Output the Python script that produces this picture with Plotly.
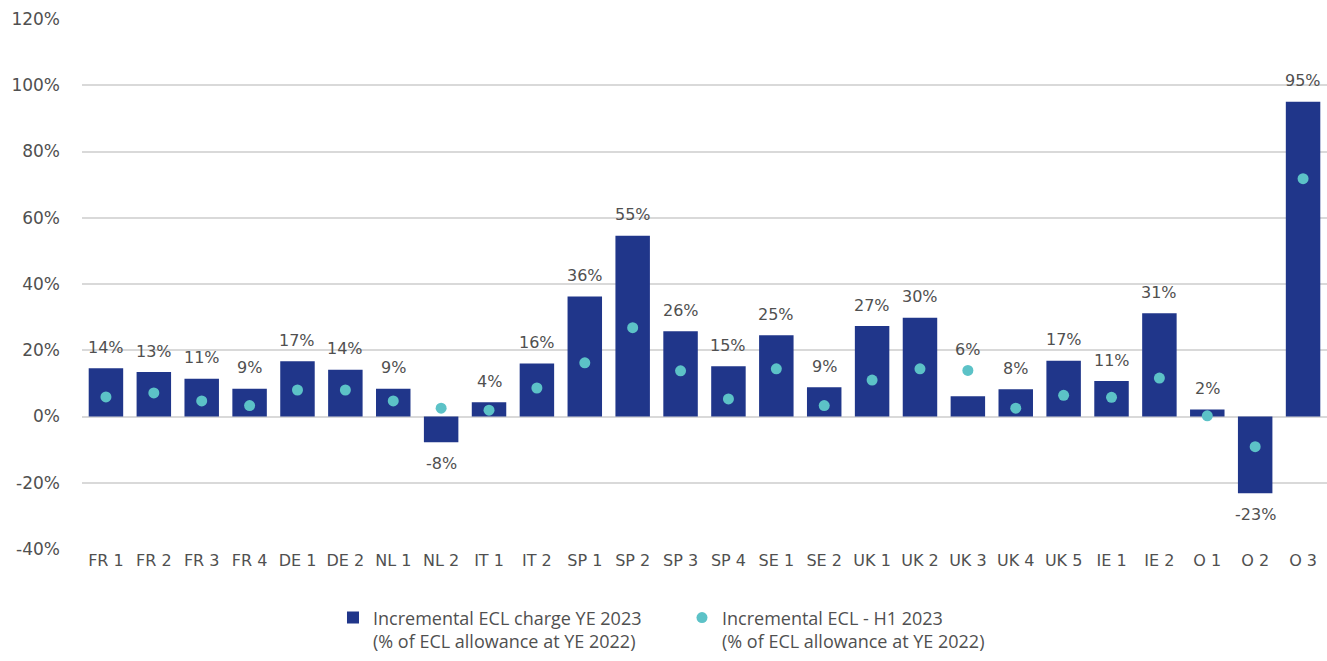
import plotly.graph_objects as go

categories = ["FR 1", "FR 2", "FR 3", "FR 4", "DE 1", "DE 2", "NL 1", "NL 2", "IT 1", "IT 2",
              "SP 1", "SP 2", "SP 3", "SP 4", "SE 1", "SE 2", "UK 1", "UK 2", "UK 3", "UK 4",
              "UK 5", "IE 1", "IE 2", "O 1", "O 2", "O 3"]
ye2023 = [14.6, 13.4, 11.4, 8.4, 16.7, 14.1, 8.4, -7.8, 4.3, 16.0,
          36.2, 54.6, 25.7, 15.2, 24.5, 8.8, 27.3, 29.8, 6.1, 8.2,
          16.8, 10.7, 31.2, 2.1, -23.2, 95.0]
ye2023_labels = ["14%", "13%", "11%", "9%", "17%", "14%", "9%", "-8%", "4%", "16%",
                 "36%", "55%", "26%", "15%", "25%", "9%", "27%", "30%", "6%", "8%",
                 "17%", "11%", "31%", "2%", "-23%", "95%"]
h12023 = [5.9, 7.1, 4.7, 3.3, 8.0, 8.0, 4.7, 2.5, 1.9, 8.6,
          16.2, 26.8, 13.8, 5.3, 14.4, 3.3, 11.0, 14.4, 13.9, 2.5,
          6.4, 5.8, 11.6, 0.2, -9.1, 71.8]
y_ticks = [-40, -20, 0, 20, 40, 60, 80, 100, 120]

bar_color = "#20368a"
dot_color = "#5cc2c7"
text_color = "#505050"
font_main = "DejaVu Sans"

fig = go.Figure()
fig.add_trace(go.Bar(
    x=categories, y=ye2023,
    marker=dict(color=bar_color, line=dict(width=0)),
    name="Incremental ECL charge YE 2023<br>(% of ECL allowance at YE 2022)",
))
fig.add_trace(go.Scatter(
    x=categories, y=h12023, mode="markers",
    marker=dict(color=dot_color, size=11, symbol="circle"),
    name="Incremental ECL - H1 2023<br>(% of ECL allowance at YE 2022)",
))

for cat, v, d, lab in zip(categories, ye2023, h12023, ye2023_labels):
    if v >= 0:
        anchor, shift = max(v, d), 21
    else:
        anchor, shift = v, -21
    fig.add_annotation(
        x=cat, y=anchor, text=lab, showarrow=False, yshift=shift,
        yanchor="middle", xanchor="center",
        font=dict(family=font_main, size=16, color=text_color),
    )

fig.update_layout(
    width=1327, height=661,
    margin=dict(l=82, r=0, t=19, b=112),
    plot_bgcolor="white", paper_bgcolor="white",
    bargap=0.28,
    font=dict(family=font_main, size=16, color=text_color),
    showlegend=True,
    legend=dict(
        orientation="h", x=0.2016, xanchor="left", y=-0.095, yanchor="top",
        font=dict(family="Open Sans", size=18, color=text_color),
        itemwidth=30, valign="top", tracegroupgap=0, entrywidth=304,
        bgcolor="rgba(0,0,0,0)",
    ),
    yaxis=dict(
        range=[-40, 120], tickvals=y_ticks, ticktext=[f"{v}%" for v in y_ticks],
        showgrid=True, gridcolor="#d9d9d9", gridwidth=2,
        zeroline=True, zerolinecolor="#d9d9d9", zerolinewidth=2,
        showline=False, ticks="", ticklabelstandoff=21,
        tickfont=dict(family=font_main, size=17, color=text_color),
    ),
    xaxis=dict(
        showgrid=False, showline=False, ticks="",
        tickfont=dict(family=font_main, size=16, color=text_color),
        range=[-0.5, 25.5],
    ),
)

fig.write_html(
    "out.html",
    config={"displayModeBar": False},
    post_script="document.body.style.margin='0';document.body.style.overflow='hidden';",
)
